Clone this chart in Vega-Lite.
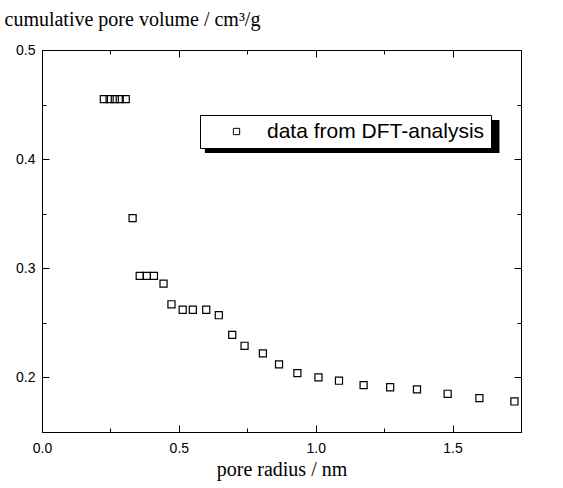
{
  "$schema": "https://vega.github.io/schema/vega-lite/v6.json",
  "width": 479,
  "height": 382,
  "autosize": "none",
  "padding": {"left": 42, "top": 50, "right": 42, "bottom": 56},
  "background": "white",
  "config": {"view": {"stroke": null}},
  "data": {"values": [
    {"r": 0.226, "v": 0.455, "series": "data from DFT-analysis"},
    {"r": 0.247, "v": 0.455, "series": "data from DFT-analysis"},
    {"r": 0.266, "v": 0.455, "series": "data from DFT-analysis"},
    {"r": 0.284, "v": 0.455, "series": "data from DFT-analysis"},
    {"r": 0.306, "v": 0.455, "series": "data from DFT-analysis"},
    {"r": 0.331, "v": 0.346, "series": "data from DFT-analysis"},
    {"r": 0.357, "v": 0.293, "series": "data from DFT-analysis"},
    {"r": 0.383, "v": 0.293, "series": "data from DFT-analysis"},
    {"r": 0.409, "v": 0.293, "series": "data from DFT-analysis"},
    {"r": 0.444, "v": 0.286, "series": "data from DFT-analysis"},
    {"r": 0.473, "v": 0.267, "series": "data from DFT-analysis"},
    {"r": 0.514, "v": 0.262, "series": "data from DFT-analysis"},
    {"r": 0.551, "v": 0.262, "series": "data from DFT-analysis"},
    {"r": 0.600, "v": 0.262, "series": "data from DFT-analysis"},
    {"r": 0.646, "v": 0.257, "series": "data from DFT-analysis"},
    {"r": 0.695, "v": 0.239, "series": "data from DFT-analysis"},
    {"r": 0.740, "v": 0.229, "series": "data from DFT-analysis"},
    {"r": 0.807, "v": 0.222, "series": "data from DFT-analysis"},
    {"r": 0.866, "v": 0.212, "series": "data from DFT-analysis"},
    {"r": 0.933, "v": 0.204, "series": "data from DFT-analysis"},
    {"r": 1.010, "v": 0.200, "series": "data from DFT-analysis"},
    {"r": 1.085, "v": 0.197, "series": "data from DFT-analysis"},
    {"r": 1.175, "v": 0.193, "series": "data from DFT-analysis"},
    {"r": 1.272, "v": 0.191, "series": "data from DFT-analysis"},
    {"r": 1.370, "v": 0.189, "series": "data from DFT-analysis"},
    {"r": 1.482, "v": 0.185, "series": "data from DFT-analysis"},
    {"r": 1.598, "v": 0.181, "series": "data from DFT-analysis"},
    {"r": 1.726, "v": 0.178, "series": "data from DFT-analysis"}
  ]},
  "resolve": {"axis": {"x": "independent", "y": "independent"}},
  "layer": [
    {
      "mark": {"type": "rect", "color": "black"},
      "encoding": {
        "x": {"datum": 0.5955, "type": "quantitative", "axis": null},
        "x2": {"datum": 1.6697},
        "y": {"datum": 0.4359, "type": "quantitative", "axis": null},
        "y2": {"datum": 0.4056}
      }
    },
    {
      "mark": {"type": "point", "shape": "square", "filled": false, "stroke": "black", "strokeWidth": 1.2, "size": 50, "opacity": 1},
      "encoding": {
        "x": {"field": "r", "type": "quantitative",
          "scale": {"domain": [0, 1.75], "nice": false, "zero": false},
          "axis": {"orient": "bottom", "values": [0, 0.5, 1, 1.5], "format": ".1f", "tickSize": -7, "grid": false, "labelFlush": false,
            "domainColor": "black", "tickColor": "black", "labelColor": "black",
            "labelFont": "Liberation Sans", "labelFontSize": 14, "labelPadding": 16,
            "title": "pore radius / nm", "titleFont": "Liberation Serif", "titleFontSize": 20, "titleFontWeight": "normal", "titleColor": "black", "titlePadding": 4}},
        "y": {"field": "v", "type": "quantitative",
          "scale": {"domain": [0.15, 0.5], "nice": false, "zero": false},
          "axis": {"orient": "left", "values": [0.2, 0.3, 0.4, 0.5], "format": ".1f", "tickSize": -7, "grid": false, "labelFlush": false,
            "domainColor": "black", "tickColor": "black", "labelColor": "black",
            "labelFont": "Liberation Sans", "labelFontSize": 14, "labelPadding": 14,
            "title": "cumulative pore volume / cm³/g", "titleFont": "Liberation Serif", "titleFontSize": 20, "titleFontWeight": "normal", "titleColor": "black",
            "titleAngle": 0, "titleAlign": "left", "titleBaseline": "alphabetic", "titleX": -38, "titleY": -25}},
        "shape": {"field": "series", "type": "nominal", "scale": {"range": ["square"]},
          "legend": {"orient": "none", "legendX": 158, "legendY": 65, "title": null,
            "fillColor": "white", "strokeColor": "black", "padding": 6,
            "symbolStrokeColor": "black", "symbolFillColor": "white", "symbolStrokeWidth": 1, "symbolSize": 40, "symbolOffset": 20,
            "labelFont": "Liberation Sans", "labelFontSize": 21, "labelColor": "black", "labelOffset": 20, "labelLimit": 400}}
      }
    },
    {
      "mark": {"type": "point", "opacity": 0},
      "encoding": {
        "x": {"field": "r", "type": "quantitative",
          "axis": {"orient": "top", "values": [0, 0.5, 1, 1.5], "tickSize": -7, "labels": false, "title": null, "grid": false, "domainColor": "black", "tickColor": "black"}},
        "y": {"field": "v", "type": "quantitative",
          "axis": {"orient": "right", "values": [0.2, 0.3, 0.4, 0.5], "tickSize": -7, "labels": false, "title": null, "grid": false, "domainColor": "black", "tickColor": "black"}}
      }
    },
    {
      "mark": {"type": "point", "opacity": 0},
      "encoding": {
        "x": {"field": "r", "type": "quantitative",
          "axis": {"orient": "bottom", "values": [0.25, 0.75, 1.25, 1.75], "tickSize": -4, "labels": false, "title": null, "grid": false, "domainColor": "black", "tickColor": "black"}},
        "y": {"field": "v", "type": "quantitative",
          "axis": {"orient": "left", "values": [0.25, 0.35, 0.45], "tickSize": -4, "labels": false, "title": null, "grid": false, "domainColor": "black", "tickColor": "black"}}
      }
    },
    {
      "mark": {"type": "point", "opacity": 0},
      "encoding": {
        "x": {"field": "r", "type": "quantitative",
          "axis": {"orient": "top", "values": [0.25, 0.75, 1.25, 1.75], "tickSize": -4, "labels": false, "title": null, "grid": false, "domainColor": "black", "tickColor": "black"}},
        "y": {"field": "v", "type": "quantitative",
          "axis": {"orient": "right", "values": [0.25, 0.35, 0.45], "tickSize": -4, "labels": false, "title": null, "grid": false, "domainColor": "black", "tickColor": "black"}}
      }
    }
  ]
}
